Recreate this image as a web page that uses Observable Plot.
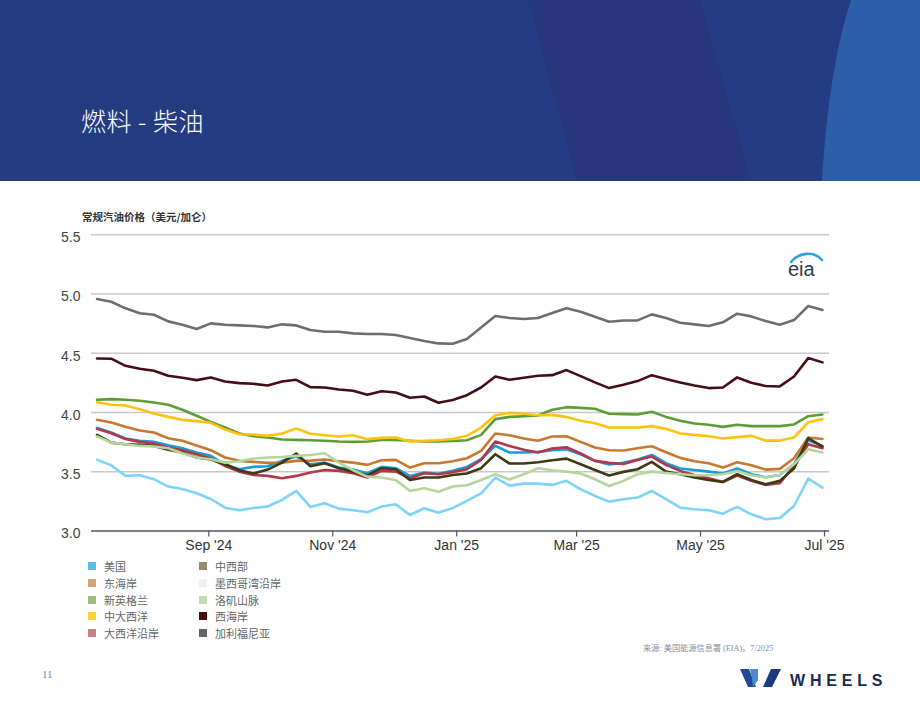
<!DOCTYPE html>
<html>
<head>
<meta charset="utf-8">
<script src="https://cdn.jsdelivr.net/npm/d3@7"></script>
<script src="https://cdn.jsdelivr.net/npm/@observablehq/plot@0.6"></script>
<style>
  html, body { margin: 0; padding: 0; background: #fff; }
  #page { position: relative; width: 920px; height: 711px; overflow: hidden; background: #fff;
          font-family: "Liberation Sans", Arial, "Noto Sans CJK SC", sans-serif; }
  #header { position: absolute; left: 0; top: 0; width: 920px; height: 181px; }
  #title { position: absolute; left: 81px; top: 102px; color: #fff; font-size: 25px; font-weight: 300;
           font-family: "Noto Sans CJK SC", "Noto Sans", sans-serif; letter-spacing: 0.5px; }
  #ylabel { position: absolute; left: 82px; top: 209px; font-size: 10.5px; font-weight: bold; color: #333;
            font-family: "Noto Sans CJK SC", sans-serif; }
  #chart { position: absolute; left: 0; top: 220px; }
  .legend { position: absolute; font-size: 11px; color: #666; font-family: "Noto Sans CJK SC", sans-serif; }
  .legend .row { position: absolute; white-space: nowrap; height: 14px; line-height: 14px; }
  .legend .sw { position: absolute; left: 0; top: 3px; width: 8px; height: 8px; }
  .legend .tx { position: absolute; left: 16px; top: 0; }
  #source { position: absolute; left: 643px; top: 641px; font-size: 8.2px; color: #8a90a4;
            font-family: "Liberation Serif", "Noto Sans CJK SC", serif; }
  #pageno { position: absolute; left: 42px; top: 668px; font-size: 11px; color: #7a86a8;
            font-family: "Liberation Serif", serif; }
  #eia { position: absolute; left: 786px; top: 251px; }
  #wheels { position: absolute; left: 738px; top: 666px; }
</style>
</head>
<body>
<div id="page">
  <svg id="header" width="920" height="181" viewBox="0 0 920 181">
    <rect x="0" y="0" width="920" height="181" fill="#243d82"/>
    <polygon points="528,0 700,0 751,181 577,181" fill="#28377a"/>
    <path d="M851,0 L920,0 L920,181 L822,181 C826,110 836,45 851,0 Z" fill="#2d5ea8"/>
  </svg>
  <div id="title">燃料 - 柴油</div>
  <div id="ylabel">常规汽油价格（美元/加仑）</div>
  <div id="chart"></div>
  <svg id="eia" width="42" height="30" viewBox="0 0 42 30">
    <path d="M5,11 C13,1 28,0 36,9" fill="none" stroke="#2aa5df" stroke-width="2.6" stroke-linecap="round"/>
    <text x="2" y="25" font-family="Liberation Sans, Arial, sans-serif" font-size="20" fill="#2f3a4c">eia</text>
  </svg>
  <div id="source">来源: 美国能源信息署 (EIA)。7/2025</div>
  <div id="pageno">11</div>
  <svg id="wheels" width="150" height="26" viewBox="0 0 150 26">
    <polygon points="2,3 11,3 18,21 10,21" fill="#1f4a9c"/>
    <polygon points="12,3 20,3 20,14 15,21 14,12" fill="#4a8ad4"/>
    <polygon points="33,3 43,3 34,21 25,21" fill="#1c3a80"/>
    <text x="52" y="20" font-family="Liberation Sans, Arial, sans-serif" font-weight="bold" font-size="16"
          letter-spacing="4.8" fill="#1a2a57">WHEELS</text>
  </svg>
</div>
<script>
// Weekly retail diesel prices, USD per gallon, Mondays 2024-07-08 through 2025-06-30
const firstWeek = new Date(Date.UTC(2024, 6, 8));
const weekCount = 52;

const seriesNames = ["美国", "东海岸", "新英格兰", "中大西洋", "大西洋沿岸", "中西部", "墨西哥湾沿岸", "洛矶山脉", "西海岸", "加利福尼亚"];
const lineColors = ["#1b9bd7", "#c8782f", "#5c9e35", "#ffc20f", "#b3364a", "#3f3a12", "#7dd3fb", "#b5d69c", "#470d17", "#6e6e6e"];
const swatchColors = ["#5bbde6", "#d4a57a", "#9bbf7a", "#ffd23c", "#c97f89", "#938a6a", "#f0f0f0", "#c3dcb1", "#4a0d16", "#666666"];

const usPrice = [3.870,3.831,3.780,3.761,3.752,3.724,3.699,3.662,3.634,3.561,3.521,3.541,3.546,3.592,3.628,3.563,3.577,3.535,3.518,3.487,3.541,3.530,3.465,3.493,3.482,3.508,
                 3.541,3.606,3.718,3.662,3.662,3.668,3.682,3.690,3.648,3.592,3.561,3.575,3.603,3.642,3.572,3.527,3.515,3.501,3.485,3.527,3.479,3.454,3.473,3.563,3.766,3.718];
const eastCoast = [3.938,3.915,3.879,3.848,3.831,3.783,3.761,3.721,3.682,3.620,3.592,3.583,3.575,3.577,3.592,3.594,3.603,3.589,3.577,3.558,3.597,3.600,3.535,3.572,3.572,3.589,
                   3.614,3.676,3.823,3.808,3.780,3.761,3.797,3.800,3.752,3.704,3.682,3.679,3.699,3.715,3.665,3.617,3.589,3.572,3.535,3.580,3.555,3.518,3.524,3.614,3.789,3.777];
const newEngland = [4.107,4.113,4.107,4.099,4.085,4.065,4.023,3.972,3.921,3.873,3.823,3.800,3.789,3.772,3.769,3.766,3.761,3.755,3.752,3.755,3.769,3.769,3.761,3.755,3.755,3.759,
                    3.766,3.811,3.944,3.963,3.969,3.975,4.023,4.045,4.039,4.031,3.989,3.986,3.983,4.006,3.963,3.930,3.907,3.896,3.879,3.896,3.885,3.885,3.885,3.899,3.969,3.983];
const centralAtlantic = [4.087,4.065,4.059,4.028,3.992,3.963,3.938,3.927,3.913,3.856,3.817,3.814,3.803,3.823,3.865,3.820,3.808,3.797,3.808,3.775,3.786,3.789,3.755,3.761,3.766,3.776,
                         3.803,3.873,3.977,3.997,3.989,3.977,3.980,3.963,3.930,3.910,3.873,3.873,3.873,3.885,3.862,3.823,3.811,3.800,3.780,3.792,3.803,3.763,3.763,3.789,3.918,3.944];
const lowerAtlantic = [3.862,3.825,3.777,3.752,3.738,3.704,3.682,3.648,3.611,3.549,3.501,3.473,3.465,3.445,3.465,3.493,3.515,3.507,3.487,3.451,3.507,3.501,3.445,3.487,3.479,3.497,
                       3.521,3.600,3.755,3.718,3.685,3.662,3.696,3.707,3.654,3.592,3.575,3.566,3.600,3.628,3.558,3.507,3.473,3.445,3.414,3.468,3.423,3.389,3.403,3.549,3.732,3.699];
const midwest = [3.811,3.746,3.732,3.727,3.718,3.685,3.662,3.620,3.603,3.563,3.513,3.485,3.518,3.577,3.654,3.546,3.572,3.530,3.501,3.470,3.530,3.521,3.431,3.451,3.451,3.472,
                 3.485,3.530,3.648,3.569,3.569,3.580,3.597,3.611,3.563,3.515,3.468,3.499,3.521,3.583,3.501,3.479,3.451,3.431,3.414,3.479,3.431,3.394,3.423,3.527,3.783,3.713];
const gulfCoast = [3.600,3.555,3.465,3.470,3.437,3.375,3.355,3.318,3.270,3.197,3.175,3.194,3.208,3.262,3.338,3.203,3.234,3.189,3.175,3.158,3.206,3.225,3.135,3.192,3.155,3.193,
                   3.254,3.318,3.451,3.383,3.400,3.400,3.389,3.423,3.352,3.296,3.248,3.268,3.282,3.338,3.268,3.197,3.183,3.175,3.146,3.203,3.141,3.099,3.110,3.211,3.442,3.366];
const rockyMountain = [3.797,3.746,3.732,3.718,3.713,3.699,3.656,3.620,3.606,3.577,3.589,3.611,3.620,3.625,3.634,3.642,3.656,3.577,3.513,3.459,3.451,3.431,3.338,3.361,3.332,3.376,
                       3.386,3.431,3.479,3.434,3.479,3.530,3.513,3.501,3.485,3.437,3.380,3.423,3.479,3.501,3.490,3.479,3.470,3.470,3.479,3.507,3.470,3.451,3.473,3.563,3.690,3.662];
const westCoast = [4.456,4.454,4.394,4.369,4.352,4.310,4.293,4.273,4.296,4.262,4.248,4.242,4.228,4.262,4.276,4.214,4.211,4.194,4.183,4.149,4.180,4.169,4.124,4.135,4.082,4.105,
                   4.146,4.211,4.304,4.276,4.293,4.310,4.315,4.358,4.307,4.254,4.206,4.234,4.265,4.315,4.282,4.254,4.228,4.206,4.211,4.296,4.251,4.223,4.220,4.304,4.459,4.423];
const california = [4.958,4.935,4.879,4.837,4.825,4.769,4.741,4.704,4.752,4.741,4.735,4.730,4.718,4.744,4.735,4.696,4.682,4.682,4.668,4.662,4.662,4.654,4.628,4.603,4.583,4.580,
                    4.620,4.718,4.814,4.797,4.789,4.797,4.839,4.879,4.851,4.808,4.766,4.777,4.777,4.828,4.797,4.758,4.744,4.730,4.761,4.834,4.811,4.772,4.741,4.780,4.899,4.865];

const seriesValues = [usPrice, eastCoast, newEngland, centralAtlantic, lowerAtlantic, midwest, gulfCoast, rockyMountain, westCoast, california];

const yTicks = [3.0, 3.5, 4.0, 4.5, 5.0, 5.5];
const xTickDates = ["2024-09-01", "2024-11-01", "2025-01-01", "2025-03-01", "2025-05-01", "2025-07-01"];
const xTickLabels = ["Sep '24", "Nov '24", "Jan '25", "Mar '25", "May '25", "Jul '25"];

const weeks = d3.range(weekCount).map(i => d3.utcDay.offset(firstWeek, 7 * i));
const rows = seriesNames.flatMap((name, s) =>
  seriesValues[s].map((v, i) => ({ series: name, date: weeks[i], price: v })));
const xTicks = xTickDates.map(s => new Date(s + "T00:00:00Z"));
const labelOf = new Map(xTicks.map((d, i) => [+d, xTickLabels[i]]));

const chart = Plot.plot({
  width: 920,
  height: 335,
  marginLeft: 91,
  marginRight: 91,
  marginTop: 14.25,
  marginBottom: 24.5,
  style: { fontFamily: "Liberation Sans, Arial, sans-serif", background: "transparent", overflow: "visible" },
  x: { type: "utc", domain: [new Date("2024-07-05T06:30:00Z"), new Date("2025-07-03T11:00:00Z")] },
  y: { domain: [3, 5.5] },
  color: { domain: seriesNames, range: lineColors },
  marks: [
    Plot.gridY(yTicks.filter(t => t > 3), { stroke: "#c9c9c9", strokeOpacity: 1, strokeWidth: 1.5 }),
    Plot.ruleY([3], { stroke: "#555", strokeWidth: 1.5 }),
    Plot.axisY(yTicks, { tickSize: 0, tickPadding: 11, dy: 3, fontSize: 14, fill: "#444",
                         tickFormat: d3.format(".1f"), label: null }),
    Plot.axisX(xTicks, { tickSize: 6, tickPadding: 3, stroke: "#555", strokeWidth: 1.2, fontSize: 14, fill: "#333",
                         tickFormat: d => labelOf.get(+d), label: null }),
    Plot.lineY(rows, { x: "date", y: "price", z: "series", stroke: "series",
                       strokeWidth: 2.6, strokeLinejoin: "round", curve: "linear" })
  ]
});
document.getElementById("chart").appendChild(chart);

// Two-column legend
const legend = document.createElement("div");
legend.className = "legend";
legend.style.left = "88px";
legend.style.top = "559px";
seriesNames.forEach((name, i) => {
  const col = Math.floor(i / 5), r = i % 5;
  const row = document.createElement("div");
  row.className = "row";
  row.style.left = (col * 111) + "px";
  row.style.top = (r * 16.8) + "px";
  row.innerHTML = `<span class="sw" style="background:${swatchColors[i]}"></span><span class="tx">${name}</span>`;
  legend.appendChild(row);
});
document.getElementById("page").appendChild(legend);
</script>
</body>
</html>
